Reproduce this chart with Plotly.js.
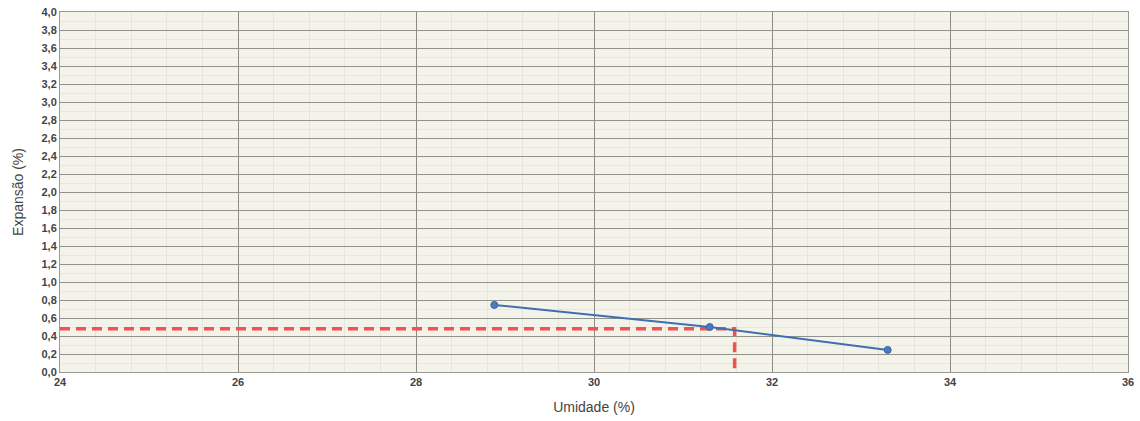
<!DOCTYPE html>
<html>
<head>
<meta charset="utf-8">
<script src="https://cdn.plot.ly/plotly-3.0.1.min.js"></script>
<style>html,body{margin:0;padding:0;background:#fff;}</style>
</head>
<body>
<div id="chart" style="width:1140px;height:421px;"></div>
<script>
const umidade = [28.88, 31.3, 33.3];
const expansao = [0.745, 0.5, 0.245];
const refX = [24, 31.58, 31.58];
const refY = [0.48, 0.48, 0];

const traces = [
  {
    x: refX, y: refY, type: 'scatter', mode: 'lines',
    line: {color: '#f0534f', width: 3.5, dash: '10px,6px'},
    hoverinfo: 'skip', showlegend: false, cliponaxis: false
  },
  {
    x: umidade, y: expansao, type: 'scatter', mode: 'lines+markers',
    line: {color: '#3f6fae', width: 2},
    marker: {color: '#4a7bbf', size: 7, line: {color: '#3a64a0', width: 1}},
    showlegend: false
  }
];

const layout = {
  width: 1140, height: 421,
  margin: {l: 60, r: 12, t: 12, b: 49},
  paper_bgcolor: '#ffffff',
  plot_bgcolor: '#f4f3ea',
  separators: ',.',
  font: {family: 'Liberation Sans, Arial, sans-serif', color: '#444'},
  xaxis: {
    range: [24, 36], dtick: 2, tick0: 24,
    showgrid: true, gridcolor: '#8c8c86', gridwidth: 1,
    minor: {dtick: 0.4, showgrid: true, gridcolor: '#e6e5dc', gridwidth: 1},
    zeroline: false, showline: true, linecolor: '#9a9a94', mirror: true,
    ticks: '', tickfont: {size: 11, color: '#444', family: 'Liberation Sans, Arial, sans-serif', weight: 'bold'},
    title: {text: 'Umidade (%)', font: {size: 14, color: '#444'}, standoff: 14}
  },
  yaxis: {
    range: [0, 4], dtick: 0.2, tick0: 0, tickformat: '.1f',
    showgrid: true, gridcolor: '#92928c', gridwidth: 1,
    minor: {dtick: 0.1, showgrid: true, gridcolor: '#e8e7de', gridwidth: 1},
    zeroline: false, showline: true, linecolor: '#9a9a94', mirror: true,
    ticks: '', tickfont: {size: 11, color: '#444', family: 'Liberation Sans, Arial, sans-serif', weight: 'bold'},
    title: {text: 'Expansão (%)', font: {size: 14, color: '#444'}, standoff: 14}
  }
};

Plotly.newPlot('chart', traces, layout, {displayModeBar: false, staticPlot: true});
</script>
</body>
</html>
